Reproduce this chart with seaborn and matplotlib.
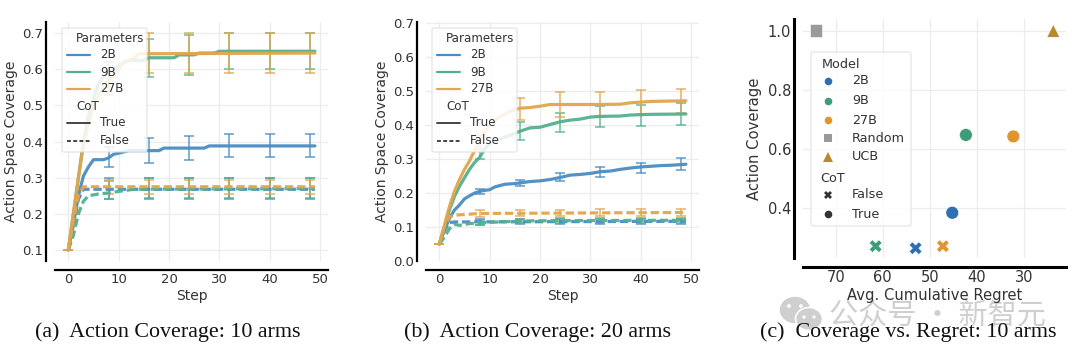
import matplotlib
matplotlib.use('Agg')
import matplotlib.pyplot as plt
from matplotlib.lines import Line2D
from matplotlib.patches import Ellipse, FancyBboxPatch
import pandas as pd
import seaborn as sns

MODELS = ['2B', '9B', '27B']
COLORS = {'2B': '#4a8cc2', '9B': '#52b08e', '27B': '#e2a64c'}
SCATTER_COLORS = {'2B': '#2f6fb0', '9B': '#3f9c78', '27B': '#e0952f', 'Random': '#9a9a9a', 'UCB': '#b8892f'}
ERR_STEPS = [8, 16, 24, 32, 40, 48]
TEXT = '#333333'

# panel a, sparse (step, value) readings of each curve
a_2b_true_x = [0, 1, 2, 3, 4, 5, 7, 8, 9, 10, 12, 18, 19, 27, 28, 49]
a_2b_true_y = [.1, .17, .25, .305, .33, .35, .35, .355, .365, .368, .375, .375, .382, .382, .388, .388]
a_9b_true_x = [0, 1, 2, 3, 4, 5, 6, 7, 8, 10, 12, 15, 16, 21, 22, 25, 26, 29, 30, 49]
a_9b_true_y = [.1, .2, .3, .4, .47, .52, .56, .58, .59, .61, .625, .625, .632, .632, .64, .64, .645, .645, .65, .65]
a_27b_true_x = [0, 1, 2, 3, 4, 5, 6, 7, 8, 9, 10, 11, 13, 14, 49]
a_27b_true_y = [.1, .2, .3, .39, .45, .5, .53, .55, .57, .58, .6, .62, .63, .643, .645]
a_2b_false_x = [0, 1, 2, 3, 49]
a_2b_false_y = [.1, .17, .24, .268, .268]
a_9b_false_x = [0, 1, 2, 3, 4, 6, 8, 10, 13, 49]
a_9b_false_y = [.1, .14, .2, .235, .25, .255, .258, .262, .268, .27]
a_27b_false_x = [0, 1, 2, 3, 49]
a_27b_false_y = [.1, .18, .25, .275, .275]

a_err_2b_true = ([.33, .342, .35, .357, .357, .357], [.385, .41, .415, .42, .42, .42])
a_err_9b_true = ([.53, .58, .585, .6, .6, .6], [.62, .685, .695, .7, .7, .7])
a_err_27b_true = ([.53, .59, .59, .59, .59, .59], [.62, .7, .7, .7, .7, .7])
a_err_2b_false = ([.24, .24, .24, .24, .24, .24], [.3, .3, .3, .3, .3, .3])
a_err_9b_false = ([.24, .245, .245, .245, .245, .245], [.29, .3, .3, .3, .3, .3])
a_err_27b_false = ([.255, .255, .255, .255, .255, .255], [.295, .295, .295, .295, .295, .295])

# panel b
b_2b_true_x = [0, 1, 2, 3, 4, 5, 6, 7, 8, 9, 10, 11, 13, 15, 16, 18, 20, 22, 24, 26, 28, 30, 32, 34, 36, 38, 40, 42, 44, 46, 49]
b_2b_true_y = [.05, .09, .125, .15, .165, .183, .192, .2, .205, .208, .21, .218, .226, .228, .23, .234, .236, .24, .246, .253, .255, .258, .263, .265, .27, .274, .277, .279, .281, .282, .285]
b_9b_true_x = [0, 1, 2, 3, 4, 5, 6, 7, 8, 9, 10, 12, 14, 16, 18, 20, 22, 24, 26, 28, 30, 32, 36, 38, 42, 49]
b_9b_true_y = [.05, .1, .15, .19, .22, .245, .27, .29, .305, .33, .345, .36, .37, .382, .392, .394, .402, .41, .415, .418, .424, .426, .427, .43, .432, .433]
b_27b_true_x = [0, 1, 2, 3, 4, 5, 6, 7, 8, 9, 10, 12, 14, 16, 18, 20, 22, 32, 36, 38, 40, 42, 49]
b_27b_true_y = [.05, .105, .16, .205, .24, .27, .295, .325, .35, .38, .4, .425, .44, .45, .452, .456, .461, .461, .462, .466, .468, .47, .472]
b_2b_false_x = [0, 1, 2, 3, 49]
b_2b_false_y = [.05, .09, .113, .115, .117]
b_9b_false_x = [0, 1, 2, 3, 4, 6, 8, 12, 16, 24, 49]
b_9b_false_y = [.05, .07, .095, .108, .105, .11, .113, .115, .118, .119, .12]
b_27b_false_x = [0, 1, 2, 3, 8, 49]
b_27b_false_y = [.05, .1, .13, .135, .14, .143]

b_err_2b_true = ([.197, .22, .235, .248, .26, .268], [.213, .24, .258, .276, .29, .302])
b_err_9b_true = ([.3, .355, .38, .395, .397, .402], [.33, .41, .435, .457, .46, .465])
b_err_27b_true = ([.33, .415, .425, .425, .433, .435], [.37, .48, .497, .497, .503, .507])
b_err_2b_false = ([.107, .108, .108, .108, .108, .109], [.123, .124, .124, .124, .124, .125])
b_err_9b_false = ([.106, .111, .112, .112, .113, .113], [.12, .125, .126, .126, .127, .127])
b_err_27b_false = ([.131, .133, .133, .134, .134, .134], [.149, .151, .151, .152, .152, .152])

# panel c
c_regret_false = [53.0, 61.5, 47.2]
c_cov_false = [.265, .272, .272]
c_regret_true = [45.2, 42.3, 32.2]
c_cov_true = [.385, .648, .643]
c_regret_random = [74.2]
c_regret_ucb = [23.7]
c_cov_baseline = [1.0]


def curves(rows):
    frames = []
    for model, cot, xs, ys in rows:
        frames.append(pd.DataFrame({'Step': xs, 'cov': ys, 'Parameters': model, 'CoT': cot}))
    return pd.concat(frames, ignore_index=True)


def style_axes(ax):
    ax.grid(True, color='#ececec', lw=0.9)
    ax.set_axisbelow(True)
    ax.tick_params(length=0, labelsize=9.5, colors=TEXT, pad=2)
    sns.despine(ax=ax, offset=6.5)
    for side in ['left', 'bottom']:
        ax.spines[side].set_color('black')
        ax.spines[side].set_linewidth(1.6)


def line_panel(ax, df, errs, start):
    for model, cot, (lo, hi) in errs:
        mids = [(l + h) / 2 for l, h in zip(lo, hi)]
        ax.errorbar(ERR_STEPS, mids, yerr=[[m - l for m, l in zip(mids, lo)], [h - m for h, m in zip(hi, mids)]],
                    fmt='none', ecolor=COLORS[model], elinewidth=1.2, capsize=3.6, capthick=1.2, alpha=0.8)
        ax.errorbar([0], [start], yerr=[[0], [0]], fmt='none', ecolor=COLORS[model], capsize=3.6, capthick=1.2)
    sns.lineplot(data=df, x='Step', y='cov', hue='Parameters', style='CoT', hue_order=MODELS,
                 style_order=['True', 'False'], palette=COLORS, dashes={'True': '', 'False': (2.6, 1.2)},
                 lw=2.3, ax=ax, errorbar=None, estimator=None, sort=False, alpha=0.95, legend=False)
    ax.set_xlabel('Step', fontsize=10, color=TEXT, labelpad=2)
    ax.set_ylabel('Action Space Coverage', fontsize=10, color=TEXT, labelpad=3)
    ax.set_xticks(range(0, 51, 10))
    style_axes(ax)


sns.set_theme(style='white')
plt.rcParams['font.family'] = ['DejaVu Sans', 'Noto Sans CJK SC']

fig = plt.figure(figsize=(10.8, 3.59), dpi=100)
W, H = 1080, 359


def px_axes(x0, x1, top, bottom):
    return fig.add_axes([x0 / W, 1 - bottom / H, (x1 - x0) / W, (bottom - top) / H])


ax_a = px_axes(55, 328, 22, 261)
ax_b = px_axes(426, 699, 22, 261)
ax_c = px_axes(803, 1066, 19, 258)

df_a = curves([
    ('2B', 'True', a_2b_true_x, a_2b_true_y), ('9B', 'True', a_9b_true_x, a_9b_true_y),
    ('27B', 'True', a_27b_true_x, a_27b_true_y), ('2B', 'False', a_2b_false_x, a_2b_false_y),
    ('9B', 'False', a_9b_false_x, a_9b_false_y), ('27B', 'False', a_27b_false_x, a_27b_false_y)])
errs_a = [('2B', 'True', a_err_2b_true), ('9B', 'True', a_err_9b_true), ('27B', 'True', a_err_27b_true),
          ('2B', 'False', a_err_2b_false), ('9B', 'False', a_err_9b_false), ('27B', 'False', a_err_27b_false)]
line_panel(ax_a, df_a, errs_a, 0.1)
ax_a.set_xlim(-2.65, 51.6)
ax_a.set_ylim(0.0695, 0.731)

df_b = curves([
    ('2B', 'True', b_2b_true_x, b_2b_true_y), ('9B', 'True', b_9b_true_x, b_9b_true_y),
    ('27B', 'True', b_27b_true_x, b_27b_true_y), ('2B', 'False', b_2b_false_x, b_2b_false_y),
    ('9B', 'False', b_9b_false_x, b_9b_false_y), ('27B', 'False', b_27b_false_x, b_27b_false_y)])
errs_b = [('2B', 'True', b_err_2b_true), ('9B', 'True', b_err_9b_true), ('27B', 'True', b_err_27b_true),
          ('2B', 'False', b_err_2b_false), ('9B', 'False', b_err_9b_false), ('27B', 'False', b_err_27b_false)]
line_panel(ax_b, df_b, errs_b, 0.05)
ax_b.set_xlim(-2.65, 51.6)
ax_b.set_ylim(0, 0.704)
ax_b.set_yticks([0, .1, .2, .3, .4, .5, .6, .7])

# panel c
scat = pd.DataFrame({
    'regret': c_regret_false + c_regret_true + c_regret_random + c_regret_ucb,
    'cov': c_cov_false + c_cov_true + c_cov_baseline + c_cov_baseline,
    'Model': MODELS + MODELS + ['Random', 'UCB'],
    'kind': ['False'] * 3 + ['True'] * 3 + ['Random', 'UCB'],
})
sns.scatterplot(data=scat, x='regret', y='cov', hue='Model', style='kind', palette=SCATTER_COLORS,
                markers={'False': 'X', 'True': 'o', 'Random': 's', 'UCB': '^'}, s=85, ax=ax_c,
                legend=False, edgecolor='white', linewidth=0.4)
ax_c.set_xlim(76.96, 21)
ax_c.set_ylim(0.232, 1.04)
ax_c.set_xticks([70, 60, 50, 40, 30])
ax_c.set_yticks([.4, .6, .8, 1.0])
ax_c.set_xlabel('Avg. Cumulative Regret', fontsize=10.6, color=TEXT, labelpad=2)
ax_c.set_ylabel('Action Coverage', fontsize=10.6, color=TEXT, labelpad=4)
style_axes(ax_c)
ax_c.tick_params(labelsize=10.5)
ax_c.spines['left'].set_linewidth(2.2)
ax_c.spines['bottom'].set_linewidth(2.2)

# pixel overlays: watermark below everything, legends above the axes
under = fig.add_axes([0, 0, 1, 1], zorder=-1)
top = fig.add_axes([0, 0, 1, 1], zorder=10)
for o in [under, top]:
    o.set_xlim(0, W)
    o.set_ylim(H, 0)
    o.axis('off')


def legend_box(x0, x1, y0, y1):
    top.add_patch(FancyBboxPatch((x0 + 2, y0 + 2), x1 - x0 - 4, y1 - y0 - 4, boxstyle='round,pad=2',
                                 facecolor='white', edgecolor='#dddddd', lw=0.8, alpha=0.85))


def line_legend(x):
    legend_box(x, x + 85, 28, 152)
    top.text(x + 14, 38, 'Parameters', fontsize=8.6, color=TEXT, va='center')
    for y, m in zip([55, 72, 89], MODELS):
        top.plot([x + 5, x + 28], [y, y], color=COLORS[m], lw=1.6)
        top.text(x + 38, y, m, fontsize=8.6, color=TEXT, va='center')
    top.text(x + 14, 106, 'CoT', fontsize=8.6, color=TEXT, va='center')
    top.plot([x + 5, x + 28], [123, 123], color='#444444', lw=1.4)
    top.text(x + 38, 123, 'True', fontsize=8.6, color=TEXT, va='center')
    top.plot([x + 5, x + 28], [141, 141], color='#444444', lw=1.4, ls=(0, (2, 1.2)))
    top.text(x + 38, 141, 'False', fontsize=8.6, color=TEXT, va='center')


line_legend(62)
line_legend(432)

legend_box(811, 911, 52, 226)
top.text(822, 64, 'Model', fontsize=9.2, color=TEXT, va='center')
for y, lab, mark in zip([81, 101, 120, 138, 157], MODELS + ['Random', 'UCB'], ['o', 'o', 'o', 's', '^']):
    top.plot([828], [y], marker=mark, color=SCATTER_COLORS[lab], ms=6.5 if mark == '^' else 5.5, ls='', mew=0)
    top.text(852, y, lab, fontsize=9.2, color=TEXT, va='center')
top.text(820, 179, 'CoT', fontsize=9.2, color=TEXT, va='center')
for y, lab, mark in zip([195, 214], ['False', 'True'], ['X', 'o']):
    top.plot([828], [y], marker=mark, color='#333333', ms=5.5, ls='', mew=0)
    top.text(852, y, lab, fontsize=9.2, color=TEXT, va='center')
top.set_xlim(0, W)
top.set_ylim(H, 0)

# watermark sits under the captions
under.add_patch(Ellipse((795, 310), 29, 25, color='#cfcfcf'))
under.add_patch(Ellipse((809, 319), 27, 23, facecolor='#cfcfcf', edgecolor='white', lw=1.2))
for ex, ey, er in [(789, 306, 2.4), (801, 306, 2.4), (804, 317, 1.9), (814, 317, 1.9)]:
    under.add_patch(Ellipse((ex, ey), er, er, color='white'))
under.text(937, 316, '公众号 · 新智元', family=['Noto Sans CJK SC', 'DejaVu Sans'], fontsize=21, color='#cfcfcf',
           ha='center', va='center')

serif = ['Liberation Serif', 'DejaVu Serif']
fig.text(168 / W, 1 - 332 / H, '(a)  Action Coverage: 10 arms', family=serif, fontsize=15.8, color='#111111', ha='center', va='center', zorder=20)
fig.text(538 / W, 1 - 332 / H, '(b)  Action Coverage: 20 arms', family=serif, fontsize=15.8, color='#111111', ha='center', va='center', zorder=20)
fig.text(908 / W, 1 - 332 / H, '(c)  Coverage vs. Regret: 10 arms', family=serif, fontsize=15.8, color='#111111', ha='center', va='center', zorder=20)

fig.savefig('out.png', dpi=100)
